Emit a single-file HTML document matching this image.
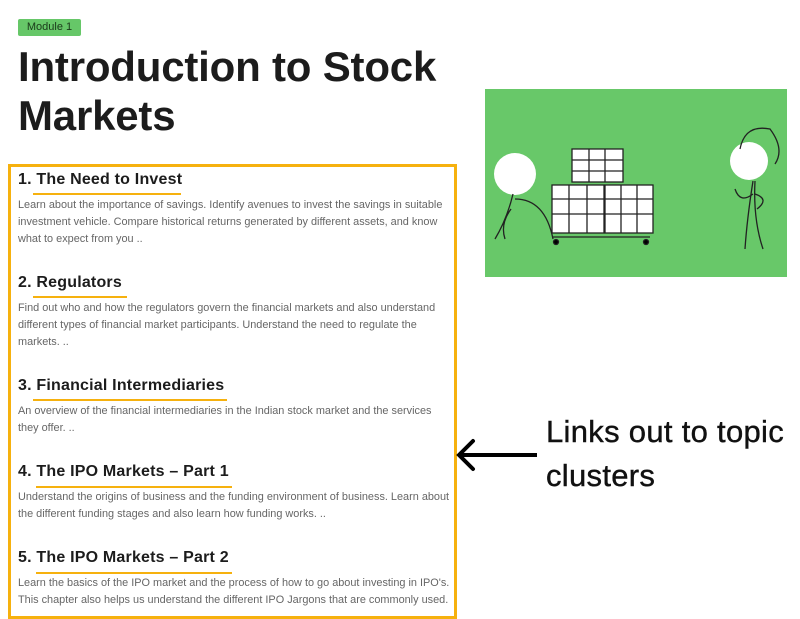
<!DOCTYPE html>
<html><head><meta charset="utf-8"><style>
body{margin:0;width:800px;height:619px;background:#fff;position:relative;overflow:hidden;font-family:"Liberation Sans",sans-serif}
.a{position:absolute}
.badge{left:18px;top:19px;width:63px;height:17px;background:#66c768;border-radius:2px;font-size:11px;color:#1a3a1a;line-height:17px;text-align:center}
.title{left:18px;top:42px;font-size:42px;font-weight:bold;color:#1c1c1c;line-height:49px;letter-spacing:-0.2px}
.box{left:8px;top:164px;width:443px;height:449px;border:3px solid #f6b10e}
h3{position:absolute;left:18px;margin:0;font-size:16px;font-weight:bold;color:#1c1c1c;white-space:nowrap;letter-spacing:0.2px}
.u{position:absolute;height:2px;background:#f6b10e}
p{position:absolute;left:18px;margin:0;font-size:10.9px;line-height:17px;color:#666;white-space:nowrap}
.lbl{left:546px;font-size:31px;color:#111;line-height:44px;letter-spacing:0.3px;-webkit-text-stroke:0.4px #111}
</style></head><body>
<div class="a badge">Module 1</div>
<div class="a title">Introduction to Stock<br>Markets</div>
<div class="a" style="left:485px;top:89px;width:302px;height:188px;background:#68c869">
<svg width="302" height="188" stroke="#222" fill="none" stroke-width="1.3">
<circle cx="30" cy="85" r="21" fill="#fff" stroke="none"/>
<circle cx="264" cy="72" r="19" fill="#fff" stroke="none"/>
<path d="M28 105 Q22 130 10 150 M30 110 Q60 110 68 150 M26 120 Q15 135 20 150"/>
<path d="M270 92 Q268 130 278 160 M268 92 Q262 130 260 160 M268 105 Q255 115 250 100 M270 105 Q285 110 272 120"/>
<path d="M255 60 Q260 35 285 40 Q300 60 290 75"/>
<rect x="87" y="60" width="51" height="33" fill="#fff"/>
<rect x="67" y="96" width="52" height="48" fill="#fff"/>
<rect x="120" y="96" width="48" height="48" fill="#fff"/>
<path d="M67 148 H165 M87 71 H138 M87 82 H138 M104 60 V93 M120 60 V93 M67 110 H119 M67 125 H119 M84 96 V144 M102 96 V144 M120 110 H168 M120 125 H168 M136 96 V144 M152 96 V144"/>
<circle cx="71" cy="153" r="2.5" fill="#000"/><circle cx="161" cy="153" r="2.5" fill="#000"/>
</svg></div>
<div class="a box"></div>
<h3 style="top:171px">1. The Need to Invest</h3><div class="u" style="left:33px;top:193px;width:148px"></div>
<p style="top:197px">Learn about the importance of savings. Identify avenues to invest the savings in suitable<br>investment vehicle. Compare historical returns generated by different assets, and know<br>what to expect from you ..</p>
<h3 style="top:274px">2. Regulators</h3><div class="u" style="left:33px;top:296px;width:94px"></div>
<p style="top:300px">Find out who and how the regulators govern the financial markets and also understand<br>different types of financial market participants. Understand the need to regulate the<br>markets. ..</p>
<h3 style="top:377px">3. Financial Intermediaries</h3><div class="u" style="left:33px;top:399px;width:194px"></div>
<p style="top:403px">An overview of the financial intermediaries in the Indian stock market and the services<br>they offer. ..</p>
<h3 style="top:463px">4. The IPO Markets – Part 1</h3><div class="u" style="left:36px;top:486px;width:196px"></div>
<p style="top:489px">Understand the origins of business and the funding environment of business. Learn about<br>the different funding stages and also learn how funding works. ..</p>
<h3 style="top:549px">5. The IPO Markets – Part 2</h3><div class="u" style="left:36px;top:572px;width:196px"></div>
<p style="top:575px">Learn the basics of the IPO market and the process of how to go about investing in IPO's.<br>This chapter also helps us understand the different IPO Jargons that are commonly used.</p>
<svg class="a" style="left:455px;top:435px" width="90" height="40"><path d="M4 20 H82" stroke="#000" stroke-width="4"/><path d="M18 6 L4 20 L18 34" stroke="#000" stroke-width="4" fill="none" stroke-linecap="round"/></svg>
<div class="a lbl" style="top:410px">Links out to topic</div>
<div class="a lbl" style="top:454px">clusters</div>
</body></html>
